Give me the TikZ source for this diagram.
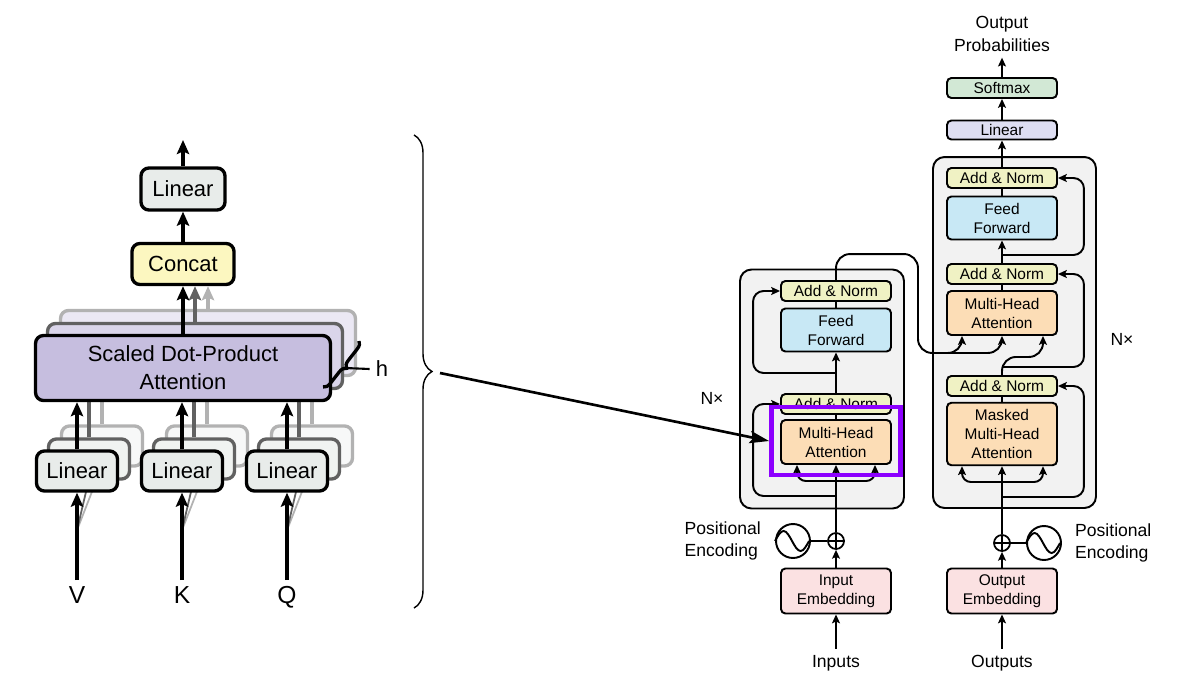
\documentclass[tikz,border=0pt]{standalone}
\usepackage{fontspec}
\setmainfont{Liberation Sans}
\usetikzlibrary{arrows.meta,positioning,calc,decorations.pathreplacing}
\definecolor{linfill}{HTML}{E8ECEA}
\definecolor{catfill}{HTML}{FCF7C0}
\definecolor{attfill}{HTML}{C6BEDF}
\definecolor{anfill}{HTML}{F0F2C4}
\definecolor{fffill}{HTML}{C8E8F5}
\definecolor{mhafill}{HTML}{FCDDB6}
\definecolor{embfill}{HTML}{FBE1E2}
\definecolor{olinfill}{HTML}{DEDEF2}
\definecolor{smfill}{HTML}{D2E8D5}
\definecolor{boxfill}{HTML}{F2F2F2}
\definecolor{hlcol}{HTML}{8C00FF}
\newcommand\encf{\fontsize{8.8}{10.8}\selectfont}
\newcommand\labf{\fontsize{10}{12.8}\selectfont}
\newcommand\headf{\fontsize{12.5}{16}\selectfont}
\newcommand\qkvf{\fontsize{14}{16}\selectfont}
\tikzstyle{lbox}=[rectangle,draw,line width=1.9pt,rounded corners=4.5pt,align=center,font=\headf]
\tikzstyle{qkv}=[font=\qkvf,text height=10pt,text depth=1pt]
\tikzstyle{sub}=[rectangle,draw,line width=1.1pt,rounded corners=2.5pt,minimum width=2.2cm,inner sep=1pt,align=center,font=\encf]
\tikzstyle{addnorm}=[sub,fill=anfill,minimum height=0.4cm]
\tikzstyle{ffwd}=[sub,fill=fffill,minimum height=0.86cm]
\tikzstyle{mhatt}=[sub,fill=mhafill,minimum height=0.88cm]
\tikzstyle{embed}=[sub,fill=embfill,minimum height=0.9cm]
\tikzstyle{stack}=[rectangle,draw,line width=1.1pt,rounded corners=6.5pt,fill=boxfill,inner sep=0pt]
\tikzstyle{plus}=[circle,draw,fill=white,line width=1pt,minimum size=0.32cm,inner sep=0pt,path picture={\draw[line width=0.8pt] (path picture bounding box.north) -- (path picture bounding box.south) (path picture bounding box.west) -- (path picture bounding box.east);}]
\tikzstyle{wave}=[circle,draw,line width=1.1pt,minimum size=0.68cm,inner sep=0pt]
\tikzstyle{lab}=[font=\labf,align=center]
\tikzstyle{arr}=[-{Stealth[length=5pt,width=4.5pt,inset=1pt]},line width=1.1pt]
\tikzstyle{wire}=[line width=1.1pt]
\tikzstyle{bigarr}=[-{Stealth[length=8pt,width=7pt,inset=1.5pt]},line width=1.9pt]
\begin{document}
\begin{tikzpicture}[x=0.02cm,y=-0.02cm]
\useasboundingbox (0,0) rectangle (1177,683);

% ---- multi-head attention (left)
\foreach \x/\t in {77/V,182/K,287/Q}
  \node[qkv] (in\x) at (\x,596) {\t};
\node[lbox,fill=linfill,minimum width=1.68cm,minimum height=0.84cm] (llin) at (183,189) {Linear};
\node[lbox,fill=catfill,minimum width=2.04cm,minimum height=0.82cm] (concat) at (183,264) {Concat};
\coordinate (lout) at (183,140);

% heads behind
\foreach \o/\c/\f in {25/black!30/35,12/black!62/65}{
  \node[lbox,draw=\c,fill=attfill!\f,minimum width=5.9cm,minimum height=1.3cm] (sdpa\o) at (183+\o,368-\o) {};
  \draw[bigarr,\c] (sdpa\o.north) -- (sdpa\o.north |- concat.south);
  \foreach \x in {77,182,287}{
    \draw[line width=1pt,\c] ($(in\x.north)+(0,-50)$) -- (\x+\o,491-\o);
    \node[lbox,draw=\c,fill=linfill!\f,minimum width=1.62cm,minimum height=0.8cm] (lin\x-\o) at (\x+\o,471-\o) {};
    \draw[line width=1.9pt,\c] (lin\x-\o) -- (lin\x-\o |- sdpa\o.south);
  }
}

% front head
\node[lbox,fill=attfill,minimum width=5.9cm,minimum height=1.3cm] (sdpa) at (183,368) {Scaled Dot-Product\\Attention};
\foreach \x in {77,182,287}{
  \node[lbox,fill=linfill,minimum width=1.62cm,minimum height=0.8cm] (lin\x) at (\x,471) {Linear};
  \draw[bigarr] (lin\x) -- (lin\x |- sdpa.south);
  \draw[bigarr] (in\x) -- (lin\x);
}
\draw[bigarr] (sdpa) -- (concat);
\draw[bigarr] (concat) -- (llin);
\draw[bigarr] (llin) -- (lout);

% h
\draw[line width=1.9pt,decorate,decoration={brace,amplitude=4pt}] (359,341) -- (323,387);
\node[font=\headf] (hlab) at (382,369) {h};
\coordinate (htip) at (345,368);
\draw[line width=1.2pt] (htip) -- (hlab.west);

% big brace
\draw[line width=0.8pt,decorate,decoration={brace,amplitude=0.36cm}] (414,135) -- (414,608);
\coordinate (btip) at (440,373);

% ---- encoder
\node[stack,minimum width=3.28cm,minimum height=4.78cm] (enc) at (822,389) {};
\node[addnorm] (ean1) at (836,404) {Add \& Norm};
\node[mhatt] (emha) at (836,442) {Multi-Head\\Attention};
\node[addnorm] (ean2) at (836,291) {Add \& Norm};
\node[ffwd] (eff) at (836,330) {Feed\\Forward};
\node[embed] (eemb) at (836,591) {Input\\Embedding};
\node[plus] (eadd) at (836,541) {};
\node[wave] (epe) at (793,541) {};
\draw[line width=1.1pt] (epe.west) sin ++(8.5,-10) cos ++(8.5,10) sin ++(8.5,10) cos ++(8.5,-10);
\node[lab,anchor=east,align=left] (epos) at (767,541) {Positional\\Encoding};
\node[lab] (einp) at (836,663) {Inputs};
\node[lab] (enx) at (712,398) {N×};
\coordinate (esplit) at (836,481);
\coordinate (eres1) at (836,496);
\coordinate (eres2) at (836,373);

\draw[wire] (epe) -- (eadd);
\draw[arr] (einp) -- (eemb);
\draw[arr] (eemb) -- (eadd);
\draw[arr] (eadd) -- (emha);
\draw[arr,rounded corners=5pt] (esplit) -| ($(emha.south)+(-39,0)$);
\draw[arr,rounded corners=5pt] (esplit) -| ($(emha.south)+(39,0)$);
\draw[arr,rounded corners=6pt] (eres1) -| ($(ean1.west)+(-27,0)$) -- (ean1.west);
\draw[wire] (emha) -- (ean1);
\draw[arr] (ean1) -- (eff);
\draw[arr,rounded corners=6pt] (eres2) -| ($(ean2.west)+(-27,0)$) -- (ean2.west);
\draw[wire] (eff) -- (ean2);

% ---- decoder
\node[stack,minimum width=3.26cm,minimum height=7.02cm] (dec) at (1014.5,332.5) {};
\node[addnorm] (dan1) at (1002,386) {Add \& Norm};
\node[mhatt,minimum height=1.25cm] (dmmha) at (1002,434) {Masked\\Multi-Head\\Attention};
\node[addnorm] (dan2) at (1002,274) {Add \& Norm};
\node[mhatt] (dmha) at (1002,313) {Multi-Head\\Attention};
\node[addnorm] (dan3) at (1002,178) {Add \& Norm};
\node[ffwd] (dff) at (1002,218) {Feed\\Forward};
\node[sub,fill=olinfill,minimum height=0.38cm] (dlin) at (1002,130) {Linear};
\node[sub,fill=smfill,minimum height=0.4cm] (dsoft) at (1002,88) {Softmax};
\node[lab] (dprob) at (1002,34) {Output\\Probabilities};
\node[embed] (demb) at (1002,591) {Output\\Embedding};
\node[plus] (dadd) at (1002,543) {};
\node[wave] (dpe) at (1044,543) {};
\draw[line width=1.1pt] (dpe.west) sin ++(8.5,-10) cos ++(8.5,10) sin ++(8.5,10) cos ++(8.5,-10);
\node[lab,anchor=west,align=left] (dpos) at (1069,543) {Positional\\Encoding};
\node[lab] (doutp) at (1002,663) {Outputs};
\node[lab] (dnx) at (1122,339) {N×};
\coordinate (dsplit) at (1002,482);
\coordinate (dres1) at (1002,497);
\coordinate (dres2) at (1002,367);
\coordinate (dres3) at (1002,255);

\draw[wire] (dpe) -- (dadd);
\draw[arr] (doutp) -- (demb);
\draw[arr] (demb) -- (dadd);
\draw[arr] (dadd) -- (dmmha);
\draw[arr,rounded corners=5pt] (dsplit) -| ($(dmmha.south)+(-40,0)$);
\draw[arr,rounded corners=5pt] (dsplit) -| ($(dmmha.south)+(41,0)$);
\draw[arr,rounded corners=6pt] (dres1) -| ($(dan1.east)+(26,0)$) -- (dan1.east);
\draw[wire] (dmmha) -- (dan1);
\draw[arr,rounded corners=8pt] (dan1.north) |- ($(dmha.south)+(41,21)$) -- ($(dmha.south)+(41,0)$);
\draw[arr,rounded corners=6pt] (dres2) -| ($(dan2.east)+(26,0)$) -- (dan2.east);
\draw[wire] (dmha) -- (dan2);
\draw[arr] (dan2) -- (dff);
\draw[arr,rounded corners=6pt] (dres3) -| ($(dan3.east)+(26,0)$) -- (dan3.east);
\draw[wire] (dff) -- (dan3);
\draw[arr] (dan3) -- (dlin);
\draw[arr] (dlin) -- (dsoft);
\draw[arr] (dsoft) -- (dprob);

% encoder output into decoder
\draw[arr,rounded corners=8pt] (ean2.north) |- ++(82,-26) |- ($(dmha.south)+(-40,17)$) -- ($(dmha.south)+(-40,0)$);
\draw[arr,rounded corners=8pt] ($(dmha.south)+(-60,17)$) -| (dmha.south);

% highlight
\node[draw=hlcol,line width=2.8pt,minimum width=2.58cm,minimum height=1.36cm,inner sep=0pt] (hl) at (836,441) {};
\draw[-{Stealth[length=11pt,width=7pt,inset=2pt]},line width=1.5pt] (btip) -- (hl.west);
\end{tikzpicture}
\end{document}
